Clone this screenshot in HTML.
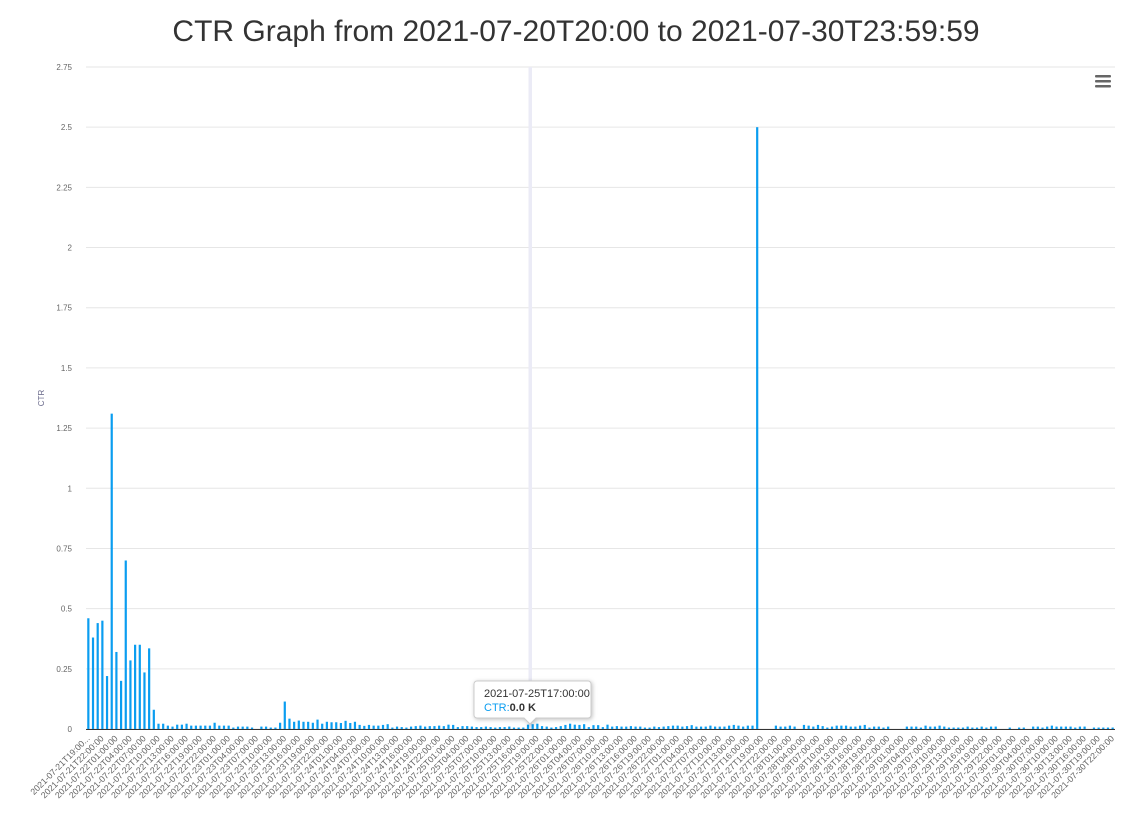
<!DOCTYPE html>
<html><head><meta charset="utf-8"><style>
body{margin:0;background:#fff;font-family:"Liberation Sans",sans-serif;}
svg{display:block}
</style></head><body>
<svg id="chart" width="1145" height="824" xmlns="http://www.w3.org/2000/svg">
<text x="576" y="41" text-anchor="middle" font-size="30" fill="#333" font-family="Liberation Sans, sans-serif">CTR Graph from 2021-07-20T20:00 to 2021-07-30T23:59:59</text>
<g><rect x="1095" y="75" width="16" height="2.5" rx="1" fill="#666"/><rect x="1095" y="80" width="16" height="2.5" rx="1" fill="#666"/><rect x="1095" y="85" width="16" height="2.5" rx="1" fill="#666"/></g>
<text x="0" y="0" transform="translate(44,398) rotate(-90)" text-anchor="middle" font-size="8" fill="#666688">CTR</text>
<g id="grid"></g><g id="band"></g><g id="bars"></g><g id="xlabels"></g><g id="ylabels"></g><g id="tip"></g>
</svg>
<script>
const yTicks=[0,0.25,0.5,0.75,1,1.25,1.5,1.75,2,2.25,2.5,2.75];
const startHour=[2021,7,21,19];
const values=[
0.46,0.38,0.44,0.45,0.22,1.31,0.32,0.20,0.70,0.285,0.35,0.35,0.235,0.335,0.08,0.022,0.022,0.014,0.01,0.018,
0.018,0.022,0.014,0.014,0.014,0.014,0.014,0.026,0.014,0.014,0.014,0.006,0.01,0.01,0.01,0.006,0,0.01,0.01,0.006,
0.006,0.026,0.114,0.043,0.03,0.035,0.03,0.03,0.026,0.039,0.022,0.03,0.028,0.028,0.025,0.034,0.025,0.03,0.017,0.013,
0.017,0.014,0.014,0.017,0.02,0.006,0.01,0.008,0.006,0.01,0.012,0.014,0.01,0.012,0.012,0.014,0.012,0.018,0.017,0.008,
0.012,0.012,0.01,0.008,0.008,0.01,0.008,0.006,0.008,0.008,0.01,0.006,0.006,0.006,0.018,0.02,0.022,0.012,0.01,0.006,
0.008,0.012,0.017,0.022,0.018,0.017,0.02,0.008,0.016,0.016,0.008,0.018,0.01,0.012,0.01,0.01,0.012,0.01,0.01,0.006,
0.006,0.01,0.008,0.01,0.012,0.014,0.014,0.01,0.012,0.016,0.01,0.01,0.01,0.014,0.01,0.01,0.01,0.014,0.017,0.014,
0.01,0.014,0.014,2.5,0,0,0,0.014,0.01,0.01,0.014,0.01,0,0.017,0.014,0.01,0.017,0.012,0.006,0.01,
0.014,0.014,0.014,0.01,0.01,0.014,0.017,0.006,0.01,0.01,0.006,0.01,0,0,0,0.01,0.01,0.01,0.006,0.014,
0.01,0.01,0.014,0.01,0.006,0.006,0.006,0.006,0.01,0.006,0.006,0.01,0.006,0.01,0.01,0,0,0.006,0,0.006,
0.006,0,0.01,0.01,0.006,0.01,0.014,0.01,0.01,0.01,0.01,0.006,0.01,0.01,0,0.006,0.006,0.006,0.006,0.006];
const NS="http://www.w3.org/2000/svg";
const L=86,R=1115,T=67,B=729,yMax=2.75,n=220;
const step=(R-L)/n;
function xPos(i){return L+(i+0.5)*step;}
function yPos(v){return B-(v/yMax)*(B-T);}
function mk(tag,at,parent){const e=document.createElementNS(NS,tag);for(const k in at)e.setAttribute(k,at[k]);document.getElementById(parent).appendChild(e);return e;}
function lbl(i){const d=new Date(Date.UTC(startHour[0],startHour[1]-1,startHour[2],startHour[3]+i));const p=x=>String(x).padStart(2,'0');return d.getUTCFullYear()+'-'+p(d.getUTCMonth()+1)+'-'+p(d.getUTCDate())+'T'+p(d.getUTCHours())+':00:00';}
yTicks.forEach(t=>{
 const g=mk('line',{x1:L,x2:R,y1:yPos(t),y2:yPos(t),stroke:'#e6e6e6','stroke-width':1},'grid');
 
 
 const tx=mk('text',{x:72,y:yPos(t)+3,'text-anchor':'end','font-size':8,fill:'#666'},'ylabels');
 tx.textContent=String(t);
 
 
});
const hi=94;
const band=mk('rect',{x:xPos(hi)+0.5,y:T,width:3.5,height:B-T,fill:'#ebebf6'},'band');


values.forEach((v,i)=>{
 if(v<=0||i>=n)return;
 const b=mk('rect',{x:xPos(i)-1.1,y:yPos(v),width:2.2,height:B-yPos(v),fill:'#0a9df0'},'bars');
 
 
});
const ax=mk('line',{x1:L,x2:R,y1:B+0.5,y2:B+0.5,stroke:'#333','stroke-width':1},'grid');


for(let i=0;i<n;i+=3){
 const x=xPos(i);
 let s=lbl(i); if(i===0)s=s.slice(0,16)+'...';
 const t=mk('text',{x:0,y:0,transform:`translate(${x+2},${B+10}) rotate(-45)`,'text-anchor':'end','font-size':8.8,fill:'#666'},'xlabels');
 t.textContent=s;
 
 
}
const tip=document.getElementById('tip');


const tx0=xPos(hi)+2;
mk('path',{d:`M477,681 h111 a3,3 0 0 1 3,3 v31 a3,3 0 0 1 -3,3 h-${588-tx0-6} l-6,6 l-6,-6 h-${tx0-6-477} a3,3 0 0 1 -3,-3 v-31 a3,3 0 0 1 3,-3z`,fill:'#fff',stroke:'#ccc','stroke-width':1,style:'filter:drop-shadow(1px 1px 2px rgba(0,0,0,0.25))'},'tip');
const t1=mk('text',{x:484,y:697,'font-size':11,fill:'#333'},'tip');t1.textContent=lbl(hi);
const t2=mk('text',{x:484,y:711,'font-size':11,fill:'#0a9df0'},'tip');t2.innerHTML='CTR:<tspan font-weight="bold" fill="#333">0.0 K</tspan>';
</script>
</body></html>
